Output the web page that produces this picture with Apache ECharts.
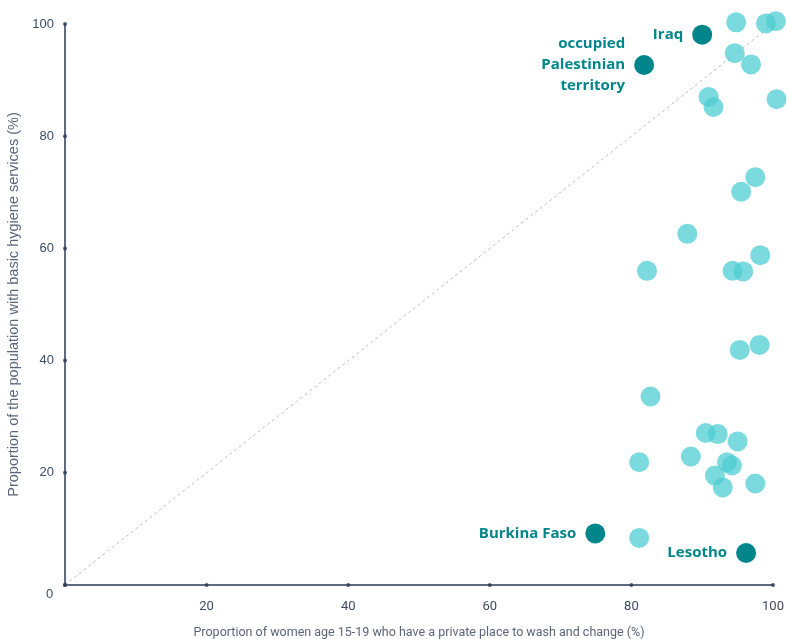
<!DOCTYPE html>
<html>
<head>
<meta charset="utf-8">
<script src="https://cdn.jsdelivr.net/npm/echarts@6/dist/echarts.min.js"></script>
<style>
  html, body { margin: 0; padding: 0; background: #fff; }
  #chart { width: 787px; height: 639px; }
</style>
</head>
<body>
<div id="chart"></div>
<script>
// other countries: [private place to wash %, basic hygiene %]
const otherPoints = [
  [94.8, 100.3], [99.0, 100.1], [100.4, 100.5],
  [94.6, 94.8], [96.9, 92.8], [90.9, 87.0], [91.6, 85.2], [100.5, 86.6],
  [97.5, 72.7], [95.5, 70.1], [87.9, 62.6], [98.2, 58.8],
  [82.2, 56.0], [94.3, 56.0], [95.8, 55.9],
  [95.3, 41.9], [98.1, 42.8], [82.7, 33.6],
  [90.5, 27.1], [92.2, 26.9], [95.0, 25.6], [88.4, 22.9],
  [81.1, 21.9], [93.5, 21.9], [94.2, 21.3], [91.8, 19.5],
  [92.9, 17.4], [97.5, 18.1], [81.1, 8.4]
];
const highlightNames = ['Iraq', 'occupied\nPalestinian\nterritory', 'Burkina Faso', 'Lesotho'];
const highlightValues = [[90.0, 98.1], [81.8, 92.7], [74.9, 9.2], [96.2, 5.7]];
const parityLine = [[0, 0], [100, 100]];
const tickValues = [0, 20, 40, 60, 80, 100];

const axisColor = '#2b3a55';
const labelColor = '#3f4b63';

const tickDots = [];
tickValues.forEach((v) => {
  tickDots.push([v, 0]);
  tickDots.push([0, v]);
});

const chart = echarts.init(document.getElementById('chart'));
chart.setOption({
  animation: false,
  grid: { left: 65, right: 14, top: 24, bottom: 54, outerBoundsMode: 'none' },
  xAxis: {
    type: 'value', min: 0, max: 100, interval: 20,
    name: 'Proportion of women age 15-19 who have a private place to wash and change (%)',
    nameLocation: 'middle', nameGap: 41,
    nameTextStyle: { color: '#5b6579', fontSize: 12.5, fontFamily: 'Roboto, sans-serif' },
    axisLine: { show: true, onZero: false, lineStyle: { color: axisColor, width: 1.5 } },
    axisTick: { show: false },
    splitLine: { show: false },
    axisLabel: {
      color: labelColor, fontSize: 13, fontFamily: 'Roboto, sans-serif', margin: 15,
      formatter: (v) => (v === 0 ? '' : v)
    }
  },
  yAxis: {
    type: 'value', min: 0, max: 100, interval: 20,
    name: 'Proportion of the population with basic hygiene services (%)',
    nameLocation: 'middle', nameGap: 40,
    nameTextStyle: { color: '#5b6579', fontSize: 14.5, fontFamily: '"Liberation Sans", Arial, sans-serif' },
    axisLine: { show: true, onZero: false, lineStyle: { color: axisColor, width: 1.5 } },
    axisTick: { show: false },
    splitLine: { show: false },
    axisLabel: {
      color: labelColor, fontSize: 13, fontFamily: '"Liberation Sans", Arial, sans-serif', margin: 11,
      formatter: (v) => (v === 0 ? '' : v)
    }
  },
  graphic: [{
    type: 'text', left: 46, top: 588,
    style: { text: '0', fill: labelColor, font: '13px "Liberation Sans", Arial, sans-serif' }
  }],
  series: [
    {
      type: 'line',
      data: parityLine,
      symbol: 'none',
      silent: true,
      lineStyle: { color: '#b9bec6', width: 1, type: [3, 3] },
      z: 1
    },
    {
      type: 'scatter',
      data: otherPoints,
      symbolSize: 20,
      clip: false,
      itemStyle: { color: '#4fcdd1', opacity: 0.75 },
      z: 2
    },
    {
      type: 'scatter',
      data: highlightValues.map((v, i) => ({ value: v, name: highlightNames[i] })),
      symbolSize: 20,
      clip: false,
      itemStyle: { color: '#00868a', opacity: 1 },
      label: {
        show: true,
        position: 'left',
        distance: 9,
        formatter: (p) => p.name,
        color: '#00868a',
        fontSize: 15,
        fontWeight: 'bold',
        fontFamily: '"Open Sans", sans-serif',
        align: 'right',
        lineHeight: 21
      },
      z: 3
    },
    {
      type: 'scatter',
      data: tickDots,
      symbolSize: 4,
      silent: true,
      clip: false,
      itemStyle: { color: axisColor },
      z: 4
    }
  ]
});
</script>
</body>
</html>
